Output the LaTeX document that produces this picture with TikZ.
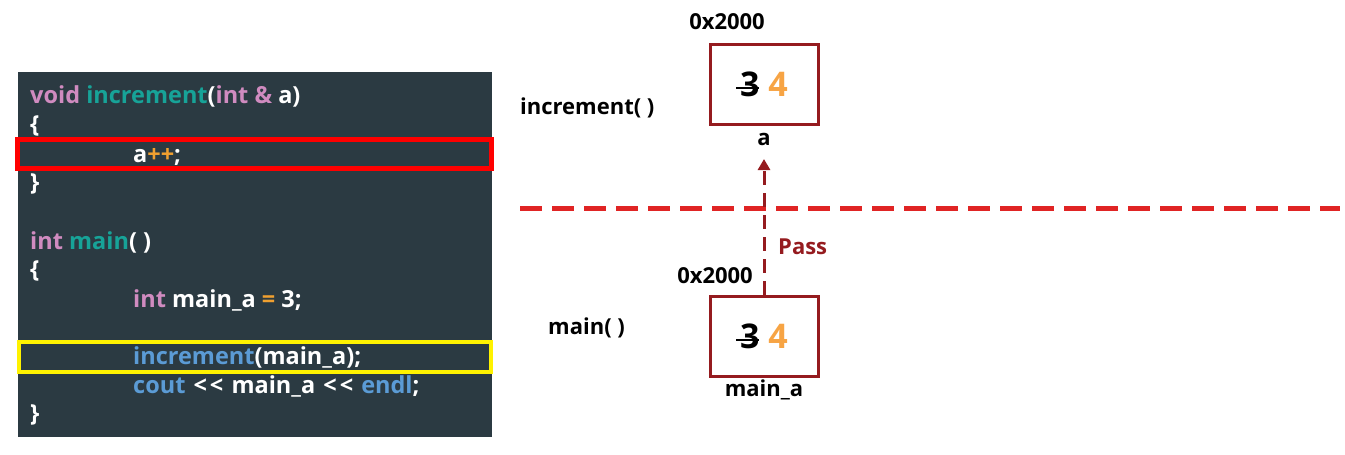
\documentclass[tikz,border=0pt]{standalone}
\usepackage{fontspec}
\setmainfont{Open Sans}
\usetikzlibrary{arrows.meta}
\definecolor{codebg}{HTML}{2B3A42}
\definecolor{kwpink}{HTML}{D08BC0}
\definecolor{fnteal}{HTML}{17A398}
\definecolor{fnblue}{HTML}{5B9BD5}
\definecolor{oporange}{HTML}{F0A030}
\definecolor{boxred}{HTML}{951B1F}
\definecolor{numorange}{HTML}{F7A444}
\definecolor{sepred}{HTML}{E02424}
\tikzset{
  code/.style={anchor=base west, inner sep=0pt, text=white, font=\fontsize{23.5}{23.5}\selectfont\bfseries},
  lbl/.style={inner sep=0pt, font=\fontsize{22}{22}\selectfont\bfseries},
  cell/.style={draw=boxred, line width=3pt, minimum width=108pt, minimum height=80pt, inner sep=0pt, font=\fontsize{34}{34}\selectfont\bfseries},
}
\newcommand{\kw}[1]{\textcolor{kwpink}{#1}}
\newcommand{\fn}[1]{\textcolor{fnteal}{#1}}
\newcommand{\fb}[1]{\textcolor{fnblue}{#1}}
\newcommand{\op}[1]{\textcolor{oporange}{#1}}
\newcommand{\ltlt}{\kern2pt<\kern3pt<\kern2pt}
\newcommand{\strikethree}{\rlap{\kern-0.12em\rule[0.2em]{0.68em}{0.08em}}3}
\begin{document}
\begin{tikzpicture}[x=1pt,y=-1pt]
\useasboundingbox (0,0) rectangle (1345,455);
% code panel
\fill[codebg] (18,72) rectangle (492,437);
\node[code] (l1) at (30,103) {\kw{void} \fn{increment}(\kw{int} \kw{\&} a)};
\node[code] (l2) at (30,132) {\{};
\node[code] (l3) at (133,162) {a\op{++};};
\node[code] (l4) at (30,190) {\}};
\node[code] (l6) at (30,249) {\kw{int} \fn{main}( )};
\node[code] (l7) at (30,277) {\{};
\node[code] (l8) at (133,307) {\kw{int} main\_a \op{=} 3;};
\node[code] (l10) at (133,364) {\fb{increment}(main\_a);};
\node[code] (l11) at (133,393) {\fb{cout} \ltlt{} main\_a \ltlt{} \fb{endl};};
\node[code] (l12) at (30,421) {\}};
\draw[red, line width=5pt] (17.5,139.5) rectangle (491.5,168.5) coordinate (redbox);
\draw[yellow, line width=4pt] (19,342) rectangle (491,372) coordinate (yelbox);
% memory cells
\node[cell] (top) at (764,84) {\strikethree\ \textcolor{numorange}{4}};
\node[cell] (bot) at (764,336) {\strikethree\ \textcolor{numorange}{4}};
\node[lbl] (addr1) at (727,22) {0x2000};
\node[lbl] (addr2) at (715,276) {0x2000};
\node[lbl] (na) at (764,139) {a};
\node[lbl] (nmain) at (764,390) {main\_a};
\node[lbl, anchor=west] (finc) at (520,108) {increment( )};
\node[lbl, anchor=west] (fmain) at (548,328) {main( )};
\coordinate (sepL) at (520,208);
\coordinate (sepR) at (1340,208);
\draw[sepred, line width=5pt, dash pattern=on 22pt off 10pt] (sepL) -- (sepR);
\coordinate (tip) at (764,159);
\draw[boxred, line width=3pt, dash pattern=on 14pt off 8pt, -{Triangle[length=11pt,width=12pt]}] (bot.north) -- (tip);
\node[lbl, text=boxred, anchor=west] (pass) at (778,247) {Pass};
\end{tikzpicture}
\end{document}
